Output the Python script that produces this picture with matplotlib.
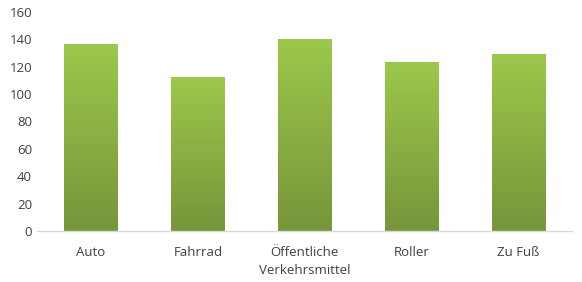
import numpy as np
import matplotlib
matplotlib.use("Agg")
import matplotlib.pyplot as plt
import matplotlib.colors as mcolors

categories = ['Auto', 'Fahrrad', 'Öffentliche\nVerkehrsmittel', 'Roller', 'Zu Fuß']
values = [136, 112, 140, 123, 129]

plt.rcParams['font.family'] = ['Open Sans', 'DejaVu Sans']
plt.rcParams['font.size'] = 9.5

fig = plt.figure(figsize=(5.82, 2.82), dpi=100)
ax = fig.add_axes([37.5 / 582, 51 / 282, 534.5 / 582, 219 / 282])

x = np.arange(len(categories))
bars = ax.bar(x, values, width=0.5, color='none', linewidth=0)

# vertical green gradient, light at top, darker at bottom
cmap = mcolors.LinearSegmentedColormap.from_list('grn', ['#77953A', '#9CC84B'])
grad = np.linspace(0, 1, 256).reshape(-1, 1)
for b in bars:
    x0, y0 = b.get_x(), b.get_y()
    w, h = b.get_width(), b.get_height()
    ax.imshow(grad, extent=(x0, x0 + w, y0, y0 + h), origin='lower',
              aspect='auto', cmap=cmap, zorder=2)

ax.set_xlim(-0.5, 4.5)
ax.set_ylim(0, 160)
ax.set_yticks(range(0, 161, 20))
ax.set_xticks(x)
ax.set_xticklabels(categories, color='#404040', linespacing=1.45)
ax.tick_params(axis='y', colors='#404040', length=0, pad=4)
ax.tick_params(axis='x', length=0, pad=11)

for s in ['top', 'right', 'left']:
    ax.spines[s].set_visible(False)
ax.spines['bottom'].set_color('#D9D9D9')
ax.spines['bottom'].set_linewidth(1)

fig.savefig('out.png', dpi=100)
